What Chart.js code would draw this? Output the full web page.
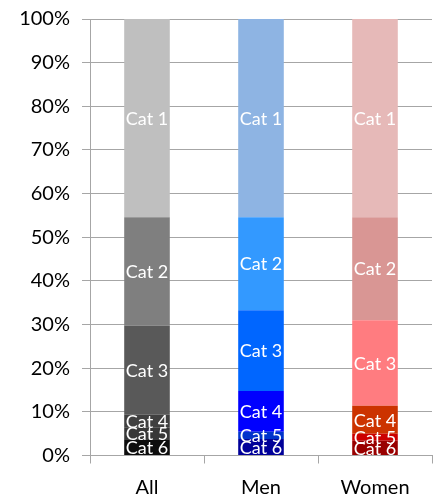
<!DOCTYPE html>
<html>
<head>
<meta charset="utf-8">
<script src="https://cdn.jsdelivr.net/npm/chart.js@4/dist/chart.umd.min.js"></script>
<style>
  html, body { margin: 0; padding: 0; background: #ffffff; }
  #wrap { width: 442px; height: 498px; }
</style>
</head>
<body>
<div id="wrap"><canvas id="c" width="442" height="498"></canvas></div>
<script>
// Groups along the x axis
const groups = ['All', 'Men', 'Women'];
// Segment names, top of the stack first
const catNames = ['Cat 1', 'Cat 2', 'Cat 3', 'Cat 4', 'Cat 5', 'Cat 6'];
// Share of each category (%) for All, Men, Women
const cat1 = [45.4, 45.4, 45.4];
const cat2 = [24.9, 21.3, 23.6];
const cat3 = [20.35, 18.5, 19.6];
const cat4 = [2.85, 9.35, 6.4];
const cat5 = [2.8, 1.65, 1.6];
const cat6 = [3.7, 3.8, 3.4];
// Y axis tick values
const yTicks = [0, 10, 20, 30, 40, 50, 60, 70, 80, 90, 100];

// Colours per category, one per group (All, Men, Women)
const palette = {
  'Cat 1': ['#bfbfbf', '#8eb4e3', '#e6b9b8'],
  'Cat 2': ['#7f7f7f', '#3399ff', '#d99694'],
  'Cat 3': ['#595959', '#0066ff', '#ff7c80'],
  'Cat 4': ['#404040', '#0000ff', '#cc3300'],
  'Cat 5': ['#383838', '#0033cc', '#cc0000'],
  'Cat 6': ['#0d0d0d', '#000099', '#990000']
};

const values = [cat1, cat2, cat3, cat4, cat5, cat6];

// Chart.js stacks the first dataset at the bottom, so build Cat 6 first
const datasets = catNames.map((name, i) => ({
  label: name,
  data: values[i],
  backgroundColor: palette[name],
  borderWidth: 0,
  categoryPercentage: 1.0,
  barPercentage: 0.4
})).reverse();

// Writes each segment's category name in its middle
const segmentLabels = {
  id: 'segmentLabels',
  afterDatasetsDraw(chart) {
    const ctx = chart.ctx;
    ctx.save();
    ctx.font = '18px Lato, "Open Sans", sans-serif';
    ctx.fillStyle = '#ffffff';
    ctx.textAlign = 'center';
    ctx.textBaseline = 'middle';
    chart.data.datasets.forEach((ds, di) => {
      const meta = chart.getDatasetMeta(di);
      meta.data.forEach(bar => {
        const p = bar.getProps(['x', 'y', 'base'], true);
        ctx.fillText(ds.label, p.x, (p.y + p.base) / 2 + 1);
      });
    });
    ctx.restore();
  }
};

new Chart(document.getElementById('c'), {
  type: 'bar',
  data: { labels: groups, datasets },
  options: {
    responsive: false,
    animation: false,
    layout: { padding: { top: 19, right: 10, left: 0, bottom: 0 } },
    plugins: {
      legend: { display: false },
      tooltip: { enabled: false }
    },
    scales: {
      x: {
        stacked: true,
        offset: true,
        grid: {
          offset: true,
          drawOnChartArea: false,
          drawTicks: true,
          tickLength: 8,
          color: '#a6a6a6'
        },
        border: { color: '#a6a6a6', width: 1 },
        ticks: {
          color: '#000000',
          font: { family: 'Lato, "Open Sans", sans-serif', size: 20 },
          padding: 12
        },
        afterFit(scale) { scale.height = 42.5; }
      },
      y: {
        stacked: true,
        min: 0,
        max: 100,
        afterBuildTicks(scale) { scale.ticks = yTicks.map(v => ({ value: v })); },
        grid: {
          color: '#a6a6a6',
          tickLength: 8
        },
        border: { color: '#a6a6a6', width: 1 },
        ticks: {
          color: '#000000',
          font: { family: 'Lato, "Open Sans", sans-serif', size: 20 },
          padding: 12,
          callback: v => v + '%'
        },
        afterFit(scale) {
          scale.width = 90;
          scale.paddingTop = 0;
          scale.paddingBottom = 0;
        }
      }
    }
  },
  plugins: [segmentLabels]
});
</script>
</body>
</html>
